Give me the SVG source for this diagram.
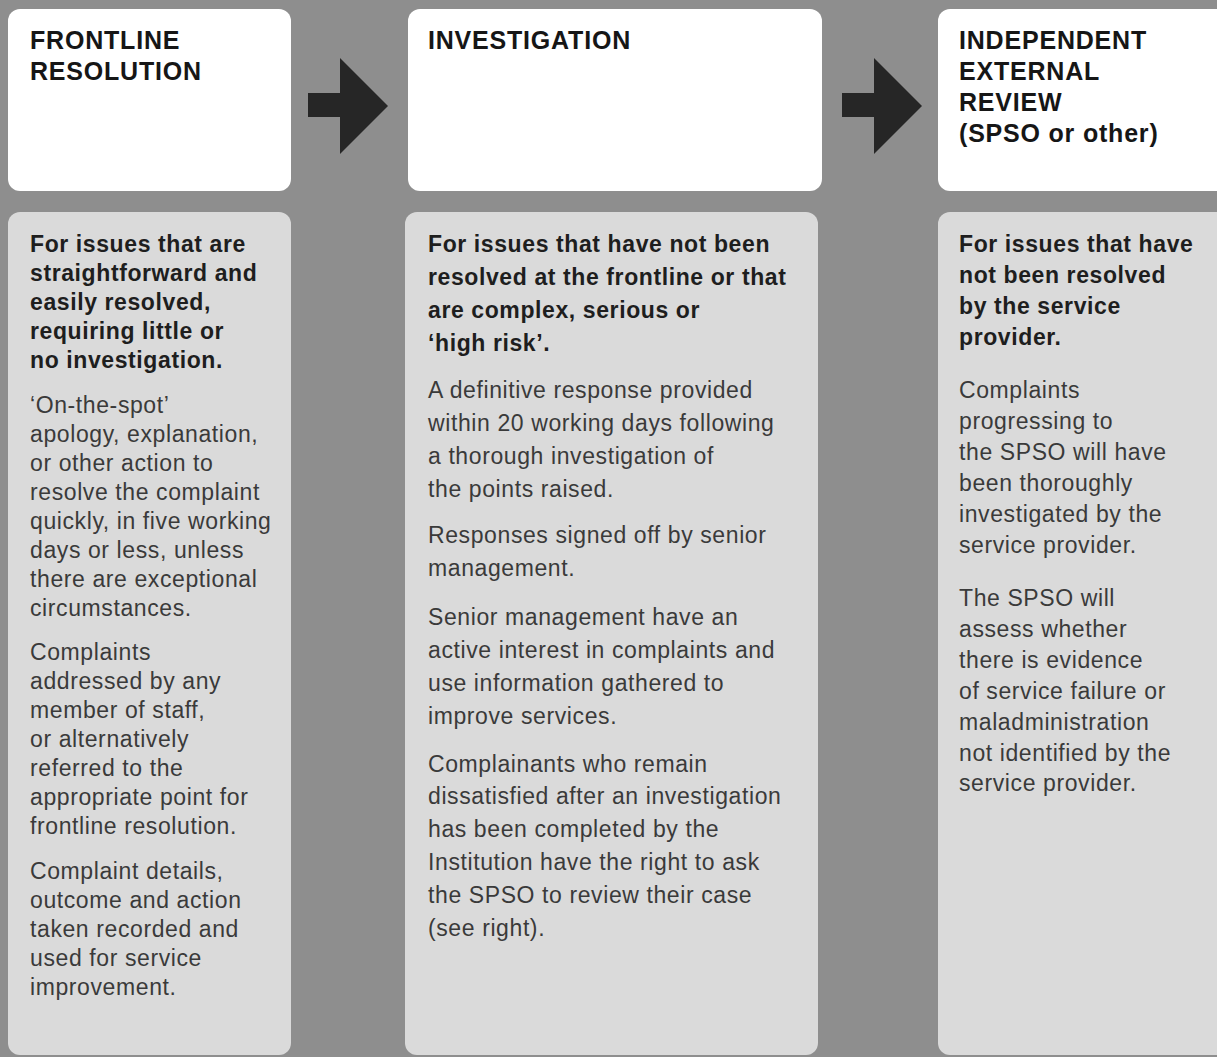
<svg xmlns="http://www.w3.org/2000/svg" width="1217" height="1057" viewBox="0 0 1217 1057">
<style>
.head{fill:#ffffff}
.body{fill:#dadada}
.h{font-family:"Liberation Sans",Arial,sans-serif;font-weight:bold;font-size:25px;letter-spacing:0.8px;fill:#161616}
.b{font-family:"Liberation Sans",Arial,sans-serif;font-weight:bold;font-size:23px;letter-spacing:0.6px;fill:#1e1e1e}
.r{font-family:"Liberation Sans",Arial,sans-serif;font-size:23px;letter-spacing:0.6px;fill:#3a3a3a}
.arrow{fill:#262626}
</style>
<rect x="0" y="0" width="1217" height="1057" fill="#8e8e8e"/>

<g id="frontline-header">
<rect class="head" x="8" y="9" width="283" height="182" rx="12"/>
<text class="h" x="30" y="49">FRONTLINE</text>
<text class="h" x="30" y="80">RESOLUTION</text>
</g>
<g id="investigation-header">
<rect class="head" x="408" y="9" width="414" height="182" rx="12"/>
<text class="h" x="428" y="49">INVESTIGATION</text>
</g>
<g id="external-header">
<rect class="head" x="938" y="9" width="295" height="182" rx="12"/>
<text class="h" x="959" y="49">INDEPENDENT</text>
<text class="h" x="959" y="80">EXTERNAL</text>
<text class="h" x="959" y="111">REVIEW</text>
<text class="h" x="959" y="142">(SPSO or other)</text>
</g>

<g id="frontline-body">
<rect class="body" x="8" y="212" width="283" height="843" rx="12"/>
<text class="b" x="30" y="252">For issues that are</text>
<text class="b" x="30" y="281">straightforward and</text>
<text class="b" x="30" y="310">easily resolved,</text>
<text class="b" x="30" y="339">requiring little or</text>
<text class="b" x="30" y="368">no investigation.</text>
<text class="r" x="30" y="413">‘On-the-spot’</text>
<text class="r" x="30" y="442">apology, explanation,</text>
<text class="r" x="30" y="471">or other action to</text>
<text class="r" x="30" y="500">resolve the complaint</text>
<text class="r" x="30" y="529">quickly, in five working</text>
<text class="r" x="30" y="558">days or less, unless</text>
<text class="r" x="30" y="587">there are exceptional</text>
<text class="r" x="30" y="616">circumstances.</text>
<text class="r" x="30" y="660">Complaints</text>
<text class="r" x="30" y="689">addressed by any</text>
<text class="r" x="30" y="718">member of staff,</text>
<text class="r" x="30" y="747">or alternatively</text>
<text class="r" x="30" y="776">referred to the</text>
<text class="r" x="30" y="805">appropriate point for</text>
<text class="r" x="30" y="834">frontline resolution.</text>
<text class="r" x="30" y="879">Complaint details,</text>
<text class="r" x="30" y="908">outcome and action</text>
<text class="r" x="30" y="937">taken recorded and</text>
<text class="r" x="30" y="966">used for service</text>
<text class="r" x="30" y="995">improvement.</text>
</g>

<g id="investigation-body">
<rect class="body" x="405" y="212" width="413" height="843" rx="12"/>
<text class="b" x="428" y="252">For issues that have not been</text>
<text class="b" x="428" y="285">resolved at the frontline or that</text>
<text class="b" x="428" y="318">are complex, serious or</text>
<text class="b" x="428" y="351">‘high risk’.</text>
<text class="r" x="428" y="398">A definitive response provided</text>
<text class="r" x="428" y="431">within 20 working days following</text>
<text class="r" x="428" y="464">a thorough investigation of</text>
<text class="r" x="428" y="497">the points raised.</text>
<text class="r" x="428" y="543">Responses signed off by senior</text>
<text class="r" x="428" y="576">management.</text>
<text class="r" x="428" y="625">Senior management have an</text>
<text class="r" x="428" y="658">active interest in complaints and</text>
<text class="r" x="428" y="691">use information gathered to</text>
<text class="r" x="428" y="724">improve services.</text>
<text class="r" x="428" y="772">Complainants who remain</text>
<text class="r" x="428" y="804">dissatisfied after an investigation</text>
<text class="r" x="428" y="837">has been completed by the</text>
<text class="r" x="428" y="870">Institution have the right to ask</text>
<text class="r" x="428" y="903">the SPSO to review their case</text>
<text class="r" x="428" y="936">(see right).</text>
</g>

<g id="external-body">
<rect class="body" x="938" y="212" width="295" height="843" rx="12"/>
<text class="b" x="959" y="252">For issues that have</text>
<text class="b" x="959" y="283">not been resolved</text>
<text class="b" x="959" y="314">by the service</text>
<text class="b" x="959" y="345">provider.</text>
<text class="r" x="959" y="398">Complaints</text>
<text class="r" x="959" y="429">progressing to</text>
<text class="r" x="959" y="460">the SPSO will have</text>
<text class="r" x="959" y="491">been thoroughly</text>
<text class="r" x="959" y="522">investigated by the</text>
<text class="r" x="959" y="553">service provider.</text>
<text class="r" x="959" y="606">The SPSO will</text>
<text class="r" x="959" y="637">assess whether</text>
<text class="r" x="959" y="668">there is evidence</text>
<text class="r" x="959" y="699">of service failure or</text>
<text class="r" x="959" y="730">maladministration</text>
<text class="r" x="959" y="761">not identified by the</text>
<text class="r" x="959" y="791">service provider.</text>
</g>

<g id="connectors">
<polygon class="arrow" points="308,93 340,93 340,58 388,106 340,154 340,117 308,117"/>
<polygon class="arrow" points="842,93 874,93 874,58 922,106 874,154 874,117 842,117"/>
</g>
</svg>
